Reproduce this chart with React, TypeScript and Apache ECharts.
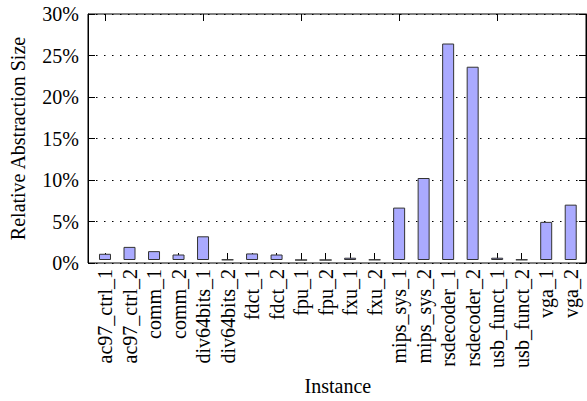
import React, { useEffect, useRef } from "react";
import * as echarts from "echarts";

const categories = [
  "ac97_ctrl_1", "ac97_ctrl_2", "comm_1", "comm_2", "div64bits_1", "div64bits_2",
  "fdct_1", "fdct_2", "fpu_1", "fpu_2", "fxu_1", "fxu_2", "mips_sys_1", "mips_sys_2",
  "rsdecoder_1", "rsdecoder_2", "usb_funct_1", "usb_funct_2", "vga_1", "vga_2",
];
const sizes = [0.76, 1.6, 1.08, 0.67, 2.89, 0.05, 0.8, 0.67, 0, 0, 0.28, 0.05, 6.39, 10.0, 26.4, 23.57, 0.28, 0.05, 4.65, 6.75];
const yTicks = [0, 5, 10, 15, 20, 25, 30];

const FONT = "'Liberation Serif', 'Times New Roman', Times, serif";

export default function App() {
  const ref = useRef<HTMLDivElement>(null);
  useEffect(() => {
    if (!ref.current) return;
    const chart = echarts.init(ref.current, null, { renderer: "svg" });
    const yMin = yTicks[0];
    const yMax = yTicks[yTicks.length - 1];
    const step = yTicks[1] - yTicks[0];
    const textStyle = { fontFamily: FONT, color: "#000", fontSize: 20 };
    chart.setOption({
      animation: false,
      textStyle: { fontFamily: FONT },
      grid: [
        { left: 86, top: 14, right: 1, bottom: 138, show: true, borderColor: "#000", borderWidth: 1, backgroundColor: "transparent" },
        { left: 92.74, top: 14, right: 4.04, bottom: 138 },
      ],
      xAxis: [
        { gridIndex: 0, type: "value", min: 0, max: 1, show: false },
        {
          gridIndex: 1, type: "category", data: categories, position: "bottom",
          axisLine: { show: false },
          axisTick: { show: true, inside: true, alignWithLabel: true, length: 7, lineStyle: { color: "#000" } },
          axisLabel: { rotate: 90, margin: 9, ...textStyle, interval: 0 },
          name: "Instance", nameLocation: "middle", nameGap: 116, nameTextStyle: { ...textStyle },
        },
        {
          gridIndex: 1, type: "category", data: categories, position: "top",
          axisLine: { show: false },
          axisTick: { show: true, inside: true, alignWithLabel: true, length: 7, lineStyle: { color: "#000" } },
          axisLabel: { show: false },
        },
      ],
      yAxis: [
        {
          gridIndex: 0, type: "value", min: yMin, max: yMax, interval: step, position: "left",
          axisLine: { show: true, lineStyle: { color: "#000" } },
          axisTick: { show: true, inside: true, length: 7, lineStyle: { color: "#000" } },
          axisLabel: { formatter: "{value}%", margin: 9, ...textStyle },
          splitLine: { show: true, lineStyle: { color: "#000", type: [1.5, 6.5], width: 1 } },
          name: "Relative Abstraction Size", nameLocation: "middle", nameGap: 60, nameTextStyle: { ...textStyle },
        },
        {
          gridIndex: 0, type: "value", min: yMin, max: yMax, interval: step, position: "right",
          axisLine: { show: true, lineStyle: { color: "#000" } },
          axisTick: { show: true, inside: true, length: 7, lineStyle: { color: "#000" } },
          axisLabel: { show: false },
          splitLine: { show: false },
        },
        { gridIndex: 1, type: "value", min: yMin, max: yMax, show: false },
      ],
      series: [
        {
          type: "bar", xAxisIndex: 1, yAxisIndex: 2, data: sizes, barWidth: 12,
          itemStyle: { color: "#aaaaff", borderColor: "#333", borderWidth: 1 },
        },
      ],
    });
    return () => chart.dispose();
  }, []);
  return <div ref={ref} style={{ width: 587, height: 401, position: "absolute", left: 0, top: 0 }} />;
}
